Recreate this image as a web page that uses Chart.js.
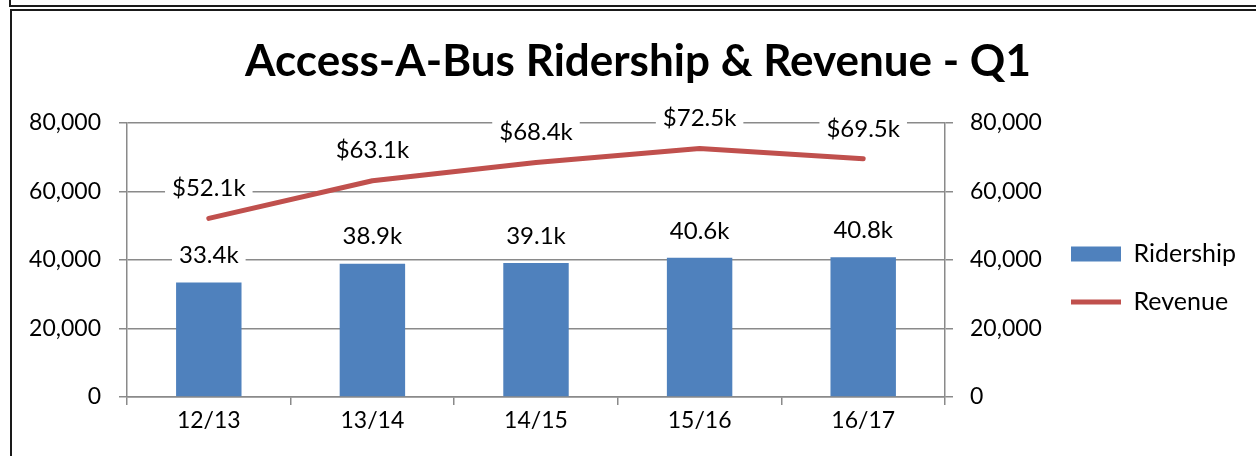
<!DOCTYPE html>
<html>
<head>
<meta charset="utf-8">
<script src="https://cdn.jsdelivr.net/npm/chart.js@4.4.1/dist/chart.umd.min.js"></script>
<style>
    html, body { margin: 0; padding: 0; background: #fff; }
    body { width: 1256px; height: 456px; position: relative; overflow: hidden; }
    .frame-prev { position: absolute; left: 9px; top: -20px; width: 1300px; height: 23px; border: 2px solid #1a1a1a; }
    .frame { position: absolute; left: 10px; top: 9px; width: 1300px; height: 500px; border: 2px solid #1a1a1a; }
    #chart { position: absolute; left: 0; top: 0; }
</style>
</head>
<body>
<div class="frame-prev"></div>
<div class="frame"></div>
<canvas id="chart" width="1256" height="456"></canvas>
<script>
// data
const seasons = ['12/13', '13/14', '14/15', '15/16', '16/17'];
const ridership = [33400, 38900, 39100, 40600, 40800];
const revenue = [52100, 63100, 68400, 72500, 69500];
const axisTicks = [0, 20000, 40000, 60000, 80000];

const FONT = 'Lato, Carlito, Calibri, sans-serif';
const GRID = '#8a8a8a';

const fmtRiders = v => (v / 1000).toFixed(1) + 'k';
const fmtRevenue = v => '$' + (v / 1000).toFixed(1) + 'k';

// labels above bars/points, white box behind so gridlines break like in Excel
const valueLabels = {
    id: 'valueLabels',
    afterDatasetsDraw(chart) {
        const ctx = chart.ctx;
        ctx.save();
        ctx.font = `24px ${FONT}`;
        ctx.textAlign = 'center';
        ctx.textBaseline = 'middle';
        chart.data.datasets.forEach((ds, i) => {
            const meta = chart.getDatasetMeta(i);
            const isBar = ds.type === 'bar';
            meta.data.forEach((el, j) => {
                const text = isBar ? fmtRiders(ds.data[j]) : fmtRevenue(ds.data[j]);
                const y = el.y - (isBar ? 28 : 31);
                const w = ctx.measureText(text).width + 14;
                ctx.fillStyle = '#fff';
                ctx.fillRect(el.x - w / 2, y - 13, w, 26);
                ctx.fillStyle = '#000';
                ctx.fillText(text, el.x, y + 1);
            });
        });
        ctx.restore();
    }
};

// reference has the legend a bit below the plot centre and the title a bit right of the page centre
const layoutNudge = {
    id: 'layoutNudge',
    afterLayout(chart) {
        const lg = chart.legend;
        if (lg) {
            lg.top += 18;
            lg.bottom += 18;
            lg.left = chart.chartArea.right + 103;
            lg.right = chart.width;
            lg.width = lg.right - lg.left;
        }
        if (chart.titleBlock) {
            chart.titleBlock.left += 10;
            chart.titleBlock.right += 10;
        }
    }
};

const tickOpts = {
    color: '#000',
    font: { family: FONT, size: 23 },
};

new Chart(document.getElementById('chart'), {
    data: {
        labels: seasons,
        datasets: [
            {
                type: 'line',
                label: 'Revenue',
                data: revenue,
                yAxisID: 'y1',
                borderColor: '#C0504D',
                backgroundColor: '#C0504D',
                borderWidth: 5,
                borderCapStyle: 'round',
                borderJoinStyle: 'round',
                pointRadius: 0,
                pointStyle: 'line',
                tension: 0,
                order: 0
            },
            {
                type: 'bar',
                label: 'Ridership',
                data: ridership,
                yAxisID: 'y',
                backgroundColor: '#4F81BD',
                borderWidth: 0,
                pointStyle: 'rect',
                barPercentage: 0.4,
                categoryPercentage: 1,
                order: 1
            }
        ]
    },
    options: {
        responsive: false,
        animation: false,
        devicePixelRatio: 1,
        layout: { padding: { left: 0, right: 0, top: 0, bottom: 0 } },
        scales: {
            x: {
                offset: true,
                grid: { offset: true, drawOnChartArea: false, drawTicks: true, tickLength: 8, color: GRID, lineWidth: 1.5 },
                border: { display: true, color: GRID, width: 1.5 },
                ticks: { ...tickOpts, padding: 2 },
                afterFit: s => { s.height = 59; }
            },
            y: {
                position: 'left',
                min: 0,
                max: 80000,
                afterBuildTicks: s => { s.ticks = axisTicks.map(v => ({ value: v })); },
                grid: { color: GRID, lineWidth: 1.5, tickLength: 8 },
                border: { display: true, color: GRID, width: 1.5 },
                ticks: { ...tickOpts, padding: 18 },
                afterFit: s => { s.width = 127; }
            },
            y1: {
                position: 'right',
                min: 0,
                max: 80000,
                afterBuildTicks: s => { s.ticks = axisTicks.map(v => ({ value: v })); },
                grid: { drawOnChartArea: false, color: GRID, lineWidth: 1.5, tickLength: 8 },
                border: { display: true, color: GRID, width: 1.5 },
                ticks: { ...tickOpts, padding: 17 },
                afterFit: s => { s.width = 131; }
            }
        },
        plugins: {
            title: {
                display: true,
                text: 'Access-A-Bus Ridership & Revenue - Q1',
                color: '#000',
                font: { family: FONT, size: 44, weight: 'bold', lineHeight: 1.2 },
                padding: { top: 35, bottom: 35 }
            },
            legend: {
                display: true,
                position: 'right',
                fullSize: false,
                maxWidth: 180,
                reverse: true,
                labels: {
                    color: '#000',
                    font: { family: FONT, size: 25 },
                    usePointStyle: true,
                    pointStyleWidth: 50,
                    boxHeight: 15,
                    padding: 23
                }
            },
            tooltip: { enabled: false }
        }
    },
    plugins: [valueLabels, layoutNudge]
});
</script>
</body>
</html>
